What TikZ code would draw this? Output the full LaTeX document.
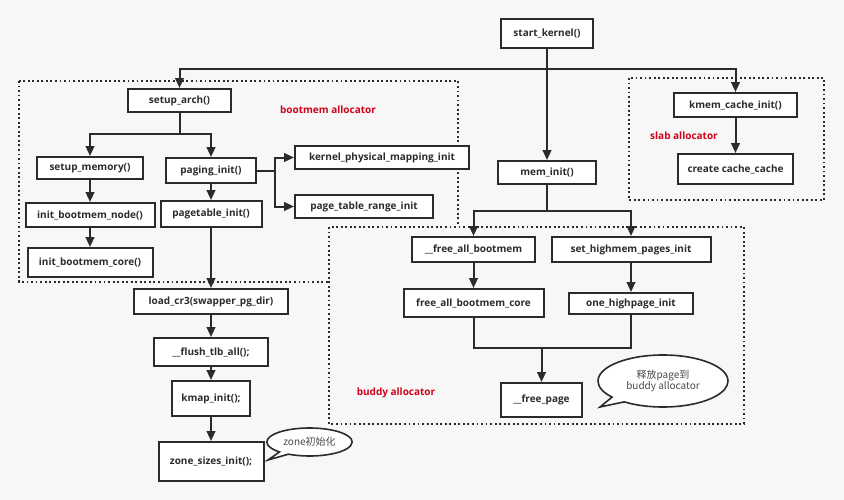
\documentclass[tikz,border=0pt]{standalone}
\usepackage{fontspec}
\setmainfont{Open Sans}
\newfontfamily\cjk{Noto Sans CJK SC}
\usetikzlibrary{arrows.meta,shapes.callouts,shapes.geometric}
\definecolor{bg}{HTML}{F7F7F7}
\definecolor{ink}{HTML}{2B2B2B}
\definecolor{tagred}{HTML}{D0021B}
\begin{document}
\begin{tikzpicture}[x=0.75pt,y=-0.75pt,
  fn/.style={draw=ink,fill=white,line width=1.5pt,inner sep=0pt,font=\fontsize{7.5}{8.5}\selectfont\bfseries,text=ink},
  arr/.style={-{Triangle[length=7.5pt,width=6.5pt]},draw=ink,line width=1.5pt},
  link/.style={draw=ink,line width=1.5pt},
  zone/.style={draw=ink,line width=1.4pt,dash pattern=on 1.4pt off 2pt},
  tag/.style={text=tagred,font=\fontsize{7.5}{8.5}\selectfont\bfseries},
  note/.style={ellipse callout,draw=ink,fill=white,line width=1.2pt,font=\cjk\fontsize{7.5}{8.5}\selectfont,text=ink!85,align=center,inner sep=0pt}]
\fill[bg] (0,0) rectangle (844,500);
% dotted areas
\draw[zone] (19,81) rectangle (458,282);
\draw[zone,fill=bg] (329,227) rectangle (744,424);
\draw[zone] (629,78) rectangle (824,200);
\node[tag] (bootmemtag) at (328,110) {bootmem allocator};
\node[tag] (slabtag) at (684,136) {slab allocator};
\node[tag] (buddytag) at (396,393) {buddy allocator};
% functions
\node[fn,minimum width=69pt,minimum height=21.75pt] (startk) at (547,33.5) {start\_kernel()};
\node[fn,minimum width=77.25pt,minimum height=17.25pt] (setuparch) at (179.5,100.5) {setup\_arch()};
\node[fn,minimum width=79.5pt,minimum height=16.5pt] (setupmem) at (90,168) {setup\_memory()};
\node[fn,minimum width=67.5pt,minimum height=18.75pt] (paging) at (211,170.5) {paging\_init()};
\node[fn,minimum width=130.5pt,minimum height=17.25pt] (kpmi) at (382,157.5) {kernel\_physical\_mapping\_init};
\node[fn,minimum width=103.5pt,minimum height=17.25pt] (ptri) at (364,206.5) {page\_table\_range\_init};
\node[fn,minimum width=96.75pt,minimum height=18pt] (initnode) at (90,215) {init\_bootmem\_node()};
\node[fn,minimum width=75.75pt,minimum height=19.5pt] (pagetable) at (211,214) {pagetable\_init()};
\node[fn,minimum width=93.75pt,minimum height=21.75pt] (initcore) at (90,262.5) {init\_bootmem\_core()};
\node[fn,minimum width=115.5pt,minimum height=18.75pt] (loadcr3) at (211,301.5) {load\_cr3(swapper\_pg\_dir)};
\node[fn,minimum width=85.5pt,minimum height=21pt] (flush) at (211,352) {\_\_flush\_tlb\_all();};
\node[fn,minimum width=58.5pt,minimum height=26.25pt] (kmap) at (211,398.5) {kmap\_init();};
\node[fn,minimum width=78.75pt,minimum height=29.25pt] (zonesz) at (211,461.5) {zone\_sizes\_init();};
\node[fn,minimum width=73.5pt,minimum height=17.25pt] (meminit) at (547,172.5) {mem\_init()};
\node[fn,minimum width=92.25pt,minimum height=18pt] (kmem) at (735.5,105) {kmem\_cache\_init()};
\node[fn,minimum width=86.25pt,minimum height=22.5pt] (create) at (735.5,169) {create cache\_cache};
\node[fn,minimum width=92.25pt,minimum height=18.75pt] (freeall) at (473.5,249.5) {\_\_free\_all\_bootmem};
\node[fn,minimum width=119.25pt,minimum height=18.75pt] (sethigh) at (631,249.5) {set\_highmem\_pages\_init};
\node[fn,minimum width=105pt,minimum height=21pt] (fabcore) at (473.5,303) {free\_all\_bootmem\_core};
\node[fn,minimum width=93pt,minimum height=15.75pt] (onehigh) at (631,303.5) {one\_highpage\_init};
\node[fn,minimum width=60.75pt,minimum height=25.5pt] (freepage) at (541.5,400) {\_\_free\_page};
% notes
\node[note,minimum width=64pt,minimum height=21pt,callout absolute pointer={(268,460)}] (zonenote) at (309.5,442) {zone初始化};
\node[note,minimum width=97.5pt,minimum height=39pt,callout absolute pointer={(600,407)}] (buddynote) at (663,381) {释放page到\\buddy allocator};
% connectors
\coordinate (kjoin) at (547,69);
\coordinate (ajoin) at (179.5,134);
\coordinate (pjoin) at (275,170.5);
\coordinate (mjoin) at (547,211);
\coordinate (fjoin) at (541.5,348);
\draw[arr] (startk) -- (meminit);
\draw[link] (startk) -- (kjoin);
\draw[arr] (kjoin) -| (setuparch.north);
\draw[arr] (kjoin) -| (kmem.north);
\draw[arr] (kmem) -- (create);
\draw[link] (setuparch) -- (ajoin);
\draw[arr] (ajoin) -| (setupmem.north);
\draw[arr] (ajoin) -| (paging.north);
\draw[arr] (setupmem) -- (initnode);
\draw[arr] (initnode) -- (initcore);
\draw[link] (paging) -- (pjoin);
\draw[arr] (pjoin) |- (kpmi.west);
\draw[arr] (pjoin) |- (ptri.west);
\draw[arr] (paging) -- (pagetable);
\draw[arr] (pagetable) -- (loadcr3);
\draw[arr] (loadcr3) -- (flush);
\draw[arr] (flush) -- (kmap);
\draw[arr] (kmap) -- (zonesz);
\draw[link] (meminit) -- (mjoin);
\draw[arr] (mjoin) -| (freeall.north);
\draw[arr] (mjoin) -| (sethigh.north);
\draw[arr] (freeall) -- (fabcore);
\draw[arr] (sethigh) -- (onehigh);
\draw[link] (fabcore.south) |- (fjoin) -| (onehigh.south);
\draw[arr] (fjoin) -- (freepage);
\end{tikzpicture}
\end{document}
